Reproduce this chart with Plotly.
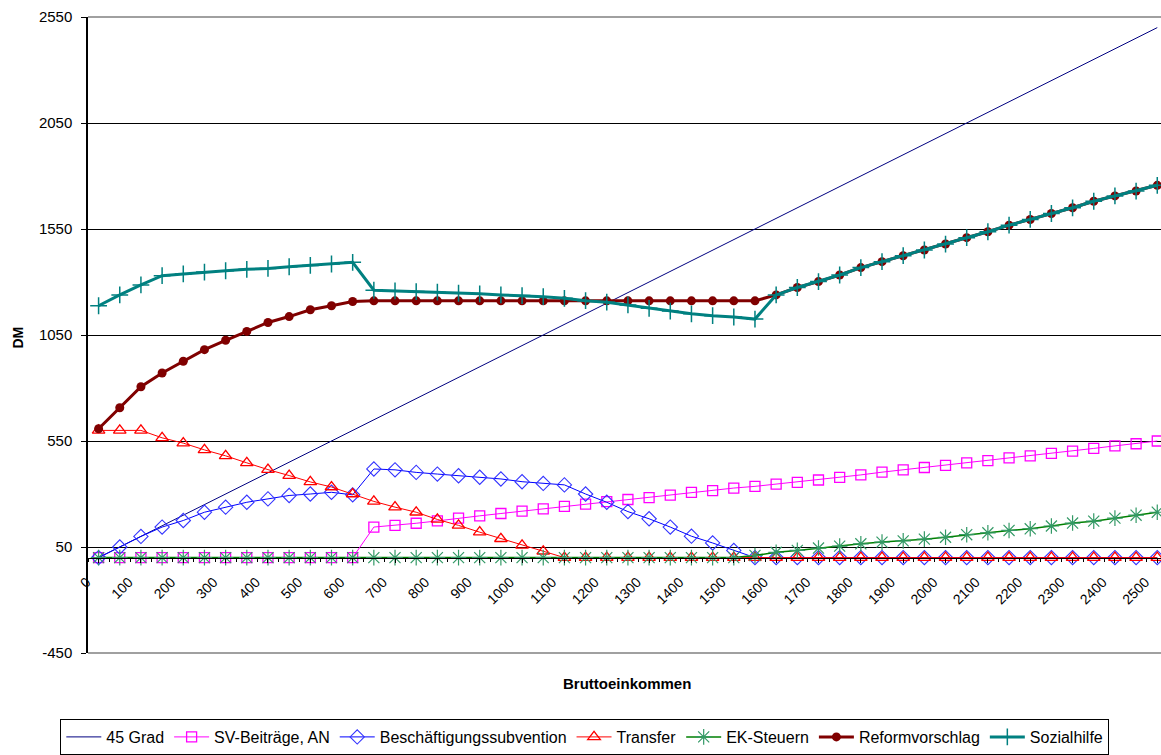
import plotly.graph_objects as go

# Bruttoeinkommen categories (DM)
brutto = [0, 50, 100, 150, 200, 250, 300, 350, 400, 450, 500, 550, 600, 650, 700, 750,
          800, 850, 900, 950, 1000, 1050, 1100, 1150, 1200, 1250, 1300, 1350, 1400, 1450,
          1500, 1550, 1600, 1650, 1700, 1750, 1800, 1850, 1900, 1950, 2000, 2050, 2100,
          2150, 2200, 2250, 2300, 2350, 2400, 2450, 2500]

x_tick_vals = [0, 100, 200, 300, 400, 500, 600, 700, 800, 900, 1000, 1100, 1200, 1300,
               1400, 1500, 1600, 1700, 1800, 1900, 2000, 2100, 2200, 2300, 2400, 2500]
x_tick_text = ["0", "100", "200", "300", "400", "500", "600", "700", "800", "900", "1000",
               "1100", "1200", "1300", "1400", "1500", "1600", "1700", "1800", "1900",
               "2000", "2100", "2200", "2300", "2400", "2500"]

y_tick_vals = [-450, 50, 550, 1050, 1550, 2050, 2550]
y_tick_text = ["-450", "50", "550", "1050", "1550", "2050", "2550"]

grad45 = [0, 50, 100, 150, 200, 250, 300, 350, 400, 450, 500, 550, 600, 650, 700, 750,
          800, 850, 900, 950, 1000, 1050, 1100, 1150, 1200, 1250, 1300, 1350, 1400, 1450,
          1500, 1550, 1600, 1650, 1700, 1750, 1800, 1850, 1900, 1950, 2000, 2050, 2100,
          2150, 2200, 2250, 2300, 2350, 2400, 2450, 2500]

sv_beitraege = [0, 0, 0, 0, 0, 0, 0, 0, 0, 0, 0, 0, 0, 144, 152, 162, 173, 186, 197, 208,
                219, 230, 242, 252, 264, 274, 283, 295, 308, 316, 328, 336, 347, 355, 366,
                378, 390, 403, 414, 425, 435, 447, 457, 470, 480, 492, 502, 515, 527, 537, 550]

beschaeftigung = [0, 50, 100, 144, 175, 214, 238, 261, 277, 293, 300, 308, 296, 418, 414,
                  402, 394, 386, 379, 371, 358, 350, 343, 300, 261, 217, 183, 144, 101, 69,
                  34, 0, 0, 0, 0, 0, 0, 0, 0, 0, 0, 0, 0, 0, 0, 0, 0, 0, 0, 0, 0]

transfer = [600, 600, 600, 565, 540, 508, 480, 447, 415, 387, 357, 333, 300, 265, 238, 214,
            180, 152, 120, 89, 58, 30, 0, 0, 0, 0, 0, 0, 0, 0, 0, 0, 0, 0, 0, 0, 0, 0, 0,
            0, 0, 0, 0, 0, 0, 0, 0, 0, 0, 0, 0]

ek_steuern = [0, 0, 0, 0, 0, 0, 0, 0, 0, 0, 0, 0, 0, 0, 0, 0, 0, 0, 0, 0, 0, 0, 0, 0, 0,
              0, 0, 0, 0, 0, 0, 10, 25, 34, 45, 54, 65, 73, 79, 87, 96, 108, 117, 128, 136,
              149, 163, 172, 186, 200, 214]

reform = [608, 707, 806, 871, 926, 981, 1025, 1067, 1109, 1137, 1169, 1188, 1208, 1211,
          1211, 1211, 1211, 1211, 1211, 1211, 1211, 1211, 1211, 1211, 1211, 1211, 1211,
          1211, 1211, 1211, 1211, 1211, 1239, 1274, 1302, 1333, 1368, 1396, 1424, 1451,
          1479, 1509, 1537, 1568, 1595, 1623, 1650, 1681, 1706, 1729, 1756]

sozialhilfe = [1188, 1239, 1286, 1330, 1338, 1347, 1353, 1360, 1364, 1372, 1378, 1385, 1393,
               1261, 1258, 1255, 1252, 1247, 1244, 1239, 1236, 1231, 1223, 1212, 1205, 1192,
               1176, 1163, 1150, 1141, 1135, 1125, 1239, 1274, 1302, 1333, 1368, 1396, 1424,
               1451, 1479, 1509, 1537, 1568, 1595, 1623, 1650, 1681, 1706, 1729, 1756]

FONT = "Arial, Liberation Sans, sans-serif"

fig = go.Figure()

fig.add_trace(go.Scatter(x=brutto, y=grad45, name="45 Grad", mode="lines",
                         line=dict(color="#000080", width=1)))
fig.add_trace(go.Scatter(x=brutto, y=sv_beitraege, name="SV-Beiträge, AN", mode="lines+markers",
                         line=dict(color="#FF00FF", width=1),
                         marker=dict(symbol="square-open", size=10, color="#FF00FF",
                                     line=dict(width=1.3, color="#FF00FF"))))
fig.add_trace(go.Scatter(x=brutto, y=beschaeftigung, name="Beschäftigungssubvention",
                         mode="lines+markers",
                         line=dict(color="#0000FF", width=1),
                         marker=dict(symbol="diamond-open", size=11, color="#3333FF",
                                     line=dict(width=1.1, color="#3333FF"))))
fig.add_trace(go.Scatter(x=brutto, y=transfer, name="Transfer", mode="lines+markers",
                         line=dict(color="#FF0000", width=1),
                         marker=dict(symbol="triangle-up-open", size=11, color="#FF0000",
                                     line=dict(width=1.3, color="#FF0000"))))
fig.add_trace(go.Scatter(x=brutto, y=ek_steuern, name="EK-Steuern", mode="lines+markers",
                         line=dict(color="#008000", width=1.5),
                         marker=dict(symbol="asterisk-open", size=13, color="#339966",
                                     line=dict(width=1.2, color="#339966"))))
fig.add_trace(go.Scatter(x=brutto, y=reform, name="Reformvorschlag", mode="lines+markers",
                         line=dict(color="#800000", width=3),
                         marker=dict(symbol="circle", size=9, color="#800000")))
fig.add_trace(go.Scatter(x=brutto, y=sozialhilfe, name="Sozialhilfe", mode="lines+markers",
                         line=dict(color="#008080", width=3),
                         marker=dict(symbol="cross-thin-open", size=12, color="#008080",
                                     line=dict(width=1.5, color="#008080"))))

fig.update_layout(
    width=1161, height=755,
    margin=dict(l=88, r=0, t=17, b=97),
    paper_bgcolor="white", plot_bgcolor="white",
    font=dict(family=FONT, size=15, color="black"),
    showlegend=True,
    legend=dict(orientation="h", x=0.463, xanchor="center", y=-0.104, yanchor="top",
                bordercolor="black", borderwidth=1, bgcolor="white",
                font=dict(family=FONT, size=16, color="black"),
                itemwidth=35, tracegroupgap=0),
    xaxis=dict(range=[-25, 2508.8], tickmode="array", tickvals=x_tick_vals,
               ticktext=x_tick_text, tickangle=-45, anchor="free", position=0.15,
               showline=True, linecolor="black", linewidth=1,
               ticks="outside", ticklen=4, tickcolor="black",
               ticklabelshift=-12, ticklabelstandoff=6, ticklabeloverflow="allow",
               minor=dict(ticks="outside", ticklen=3, tickcolor="black",
                          tickmode="linear", tick0=-25, dtick=50, showgrid=False),
               showgrid=False, zeroline=False,
               tickfont=dict(family=FONT, size=14, color="black")),
    yaxis=dict(range=[-450, 2550], tickmode="array", tickvals=y_tick_vals,
               ticktext=y_tick_text,
               showline=True, linecolor="black", linewidth=1.5,
               ticks="outside", ticklen=5, tickcolor="black", ticklabelstandoff=6,
               showgrid=True, gridcolor="black", gridwidth=1,
               zeroline=False, anchor="x",
               tickfont=dict(family=FONT, size=15, color="black")),
    annotations=[
        dict(text="<b>DM</b>", xref="paper", yref="paper", x=-0.0652, y=0.496,
             textangle=-90, showarrow=False, xanchor="center", yanchor="middle",
             font=dict(family=FONT, size=14, color="black")),
        dict(text="<b>Bruttoeinkommen</b>", xref="paper", yref="paper", x=0.502, y=-0.0484,
             showarrow=False, xanchor="center", yanchor="middle",
             font=dict(family=FONT, size=15, color="black")),
    ],
    shapes=[
        dict(type="line", xref="paper", yref="paper", x0=0, x1=1, y0=1, y1=1,
             line=dict(color="#808080", width=1.5), layer="above"),
        dict(type="line", xref="paper", yref="paper", x0=0, x1=1, y0=0, y1=0,
             line=dict(color="#808080", width=1.5), layer="above"),
    ],
)

fig.write_html("out.html")
